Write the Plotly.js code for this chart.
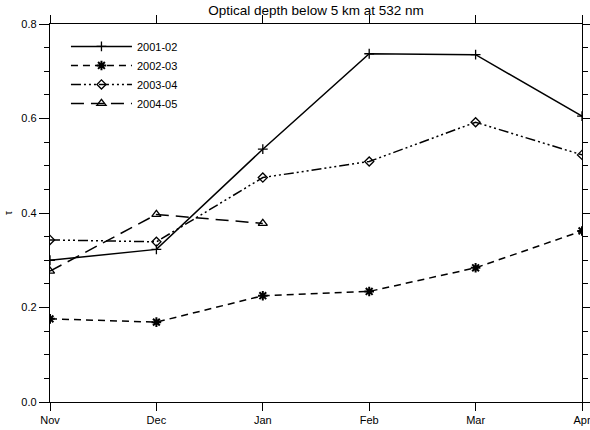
<!DOCTYPE html>
<html>
<head>
<meta charset="utf-8">
<script src="https://cdn.plot.ly/plotly-3.0.1.min.js"></script>
<style>html,body{margin:0;padding:0;background:#fff;}#chart{width:590px;height:430px;}</style>
</head>
<body>
<div id="chart"></div>
<script>
const months = ["Nov", "Dec", "Jan", "Feb", "Mar", "Apr"];
const seriesNames = ["2001-02", "2002-03", "2003-04", "2004-05"];
const s2001 = [0.300, 0.323, 0.535, 0.737, 0.735, 0.605];
const s2002 = [0.176, 0.169, 0.225, 0.234, 0.284, 0.362];
const s2003 = [0.343, 0.339, 0.475, 0.509, 0.592, 0.523];
const s2004 = [0.277, 0.397, 0.378];
const yTickVals = [0.0, 0.2, 0.4, 0.6, 0.8];

const traces = [
  {x: months, y: s2001, name: seriesNames[0], mode: "lines+markers",
   line: {color: "#000", width: 1.5, dash: "solid"},
   marker: {symbol: "cross-thin-open", size: 7, color: "#000", line: {color: "#000", width: 1.3}}},
  {x: months, y: s2002, name: seriesNames[1], mode: "lines+markers",
   line: {color: "#000", width: 1.5, dash: "7px,5px"},
   marker: {symbol: "asterisk-open", size: 8, color: "#000", line: {color: "#000", width: 2}}},
  {x: months, y: s2003, name: seriesNames[2], mode: "lines+markers",
   line: {color: "#000", width: 1.5, dash: "10px,3px,2px,3px,2px,3px,2px,3px"},
   marker: {symbol: "diamond-open", size: 7, color: "#000", line: {color: "#000", width: 1.3}}},
  {x: months.slice(0, s2004.length), y: s2004, name: seriesNames[3], mode: "lines+markers",
   line: {color: "#000", width: 1.5, dash: "13px,7px"},
   marker: {symbol: "triangle-up-open", size: 8, color: "#000", line: {color: "#000", width: 1.3}}}
];

const layout = {
  width: 590, height: 430,
  margin: {l: 50, r: 8, t: 24, b: 28},
  paper_bgcolor: "#fff", plot_bgcolor: "#fff",
  font: {family: "Liberation Sans, Arial, sans-serif", size: 11, color: "#000"},
  title: {text: "Optical depth below 5 km at 532 nm", font: {size: 13.5, color: "#000"},
          x: 0.5, xref: "paper", y: 1 - 10/430, yref: "container", yanchor: "middle"},
  showlegend: true,
  legend: {x: 0.03, y: 0.979, xanchor: "left", yanchor: "top", bgcolor: "rgba(0,0,0,0)",
           font: {size: 11}, tracegroupgap: 0, itemwidth: 61},
  xaxis: {type: "category", range: [0, 5], showgrid: false, zeroline: false,
          showline: true, linecolor: "#000", linewidth: 1.2, mirror: "allticks",
          ticks: "outside", ticklen: 8, tickwidth: 1, tickcolor: "#000",
          tickfont: {size: 11}},
  yaxis: {range: [0, 0.8], tickvals: yTickVals, tickformat: ".1f", showgrid: false, zeroline: false,
          showline: true, linecolor: "#000", linewidth: 1.2, mirror: "allticks",
          ticks: "outside", ticklen: 10, tickwidth: 1, tickcolor: "#000",
          tickfont: {size: 11},
          minor: {dtick: 0.05, tick0: 0, ticks: "outside", ticklen: 5, tickwidth: 1, tickcolor: "#000", showgrid: false},
          title: {text: "τ", font: {size: 10}, standoff: 6}}
};

Plotly.newPlot("chart", traces, layout, {displayModeBar: false, staticPlot: true});
</script>
</body>
</html>
